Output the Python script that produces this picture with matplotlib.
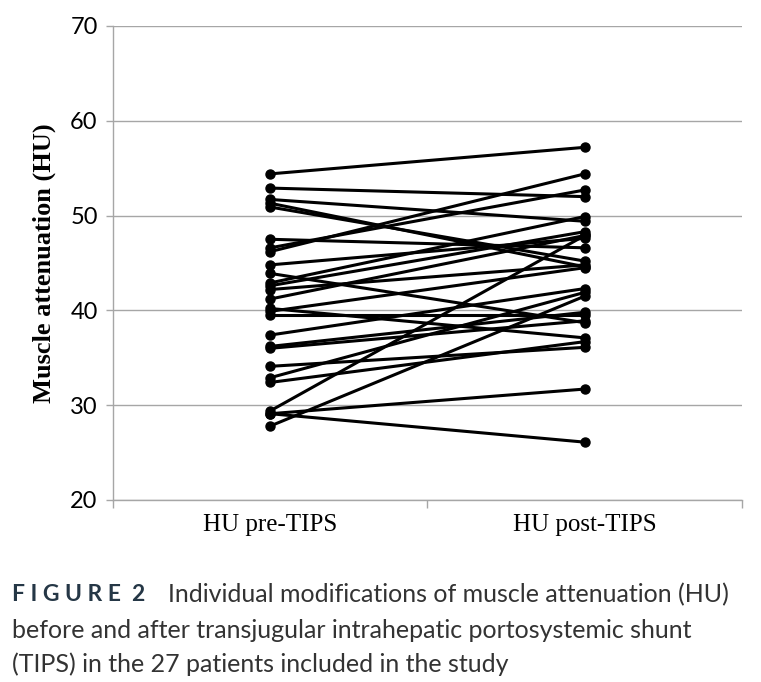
import numpy as np
import matplotlib.pyplot as plt

# values (HU before / after TIPS, one entry per patient)
pre_tips = [54.4, 52.9, 51.7, 51.3, 50.9, 47.5, 46.6, 46.2, 44.8, 43.9,
            42.9, 42.6, 42.2, 41.2, 40.2, 39.9, 39.5, 37.4, 36.2, 36.0,
            34.1, 32.9, 32.4, 29.4, 29.1, 29.1, 27.8]
post_tips = [57.2, 52.0, 49.4, 44.6, 45.2, 46.6, 52.7, 54.4, 47.6, 38.7,
             49.9, 48.3, 44.8, 47.9, 37.1, 44.5, 39.5, 42.3, 39.8, 38.9,
             36.1, 41.9, 36.7, 47.9, 31.7, 26.1, 41.5]
categories = ["HU pre-TIPS", "HU post-TIPS"]
y_ticks = [20, 30, 40, 50, 60, 70]

fig = plt.figure(figsize=(7.61, 6.82), dpi=100)
ax = fig.add_axes([0.1485, 0.2669, 0.8265, 0.695])

xpos = np.array([0.5, 1.5])
for a, b in zip(pre_tips, post_tips):
    ax.plot(xpos, [a, b], color="black", lw=2.2, marker="o", ms=6.5,
            solid_capstyle="round", zorder=3)

ax.set_xlim(0, 2)
ax.set_ylim(20, 70)
ax.set_yticks(y_ticks)
ax.yaxis.grid(True, color="#a6a6a6", lw=1.0)
ax.set_axisbelow(True)

ax.set_xticks([0, 1, 2])
ax.set_xticklabels([])
ax.set_xticks(xpos, minor=True)
ax.set_xticklabels(categories, minor=True, fontfamily="Liberation Serif", fontsize=18)
ax.tick_params(axis="x", which="minor", length=0, pad=10)
ax.tick_params(axis="x", which="major", length=6, color="#a6a6a6", width=1)
ax.tick_params(axis="y", length=5, color="#a6a6a6", width=1, pad=6)
for lab in ax.get_yticklabels():
    lab.set_fontfamily("Lato")
    lab.set_fontsize(17)

for s in ["top", "right"]:
    ax.spines[s].set_visible(False)
for s in ["left", "bottom"]:
    ax.spines[s].set_color("#a6a6a6")
    ax.spines[s].set_linewidth(1.0)

ax.set_ylabel("Muscle attenuation (HU)", fontfamily="Liberation Serif",
              fontweight="bold", fontsize=19, labelpad=10)

# caption
fig.text(0.016, 0.128, "F I G U R E  2", fontfamily="Lato", fontweight="bold",
         fontsize=16.5, color="#253746", va="center")
fig.text(0.221, 0.128, "Individual modifications of muscle attenuation (HU)",
         fontfamily="Lato", fontsize=18, color="#333333", va="center")
fig.text(0.016, 0.076, "before and after transjugular intrahepatic portosystemic shunt",
         fontfamily="Lato", fontsize=18, color="#333333", va="center")
fig.text(0.016, 0.026, "(TIPS) in the 27 patients included in the study",
         fontfamily="Lato", fontsize=18, color="#333333", va="center")

fig.savefig("out.png", dpi=100)
